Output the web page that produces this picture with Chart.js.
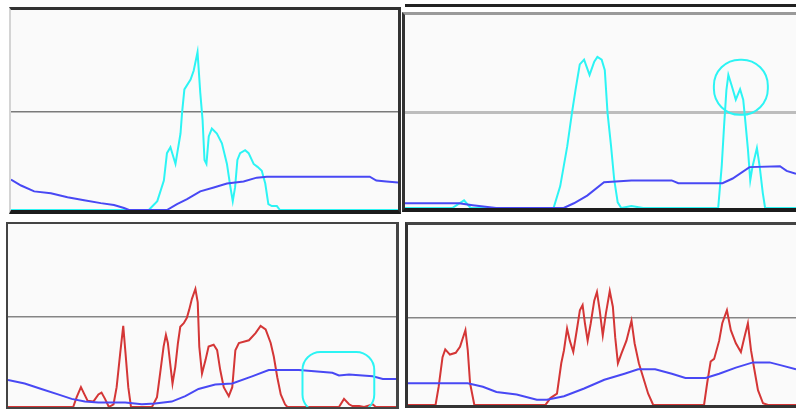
<!DOCTYPE html>
<html>
<head>
<meta charset="utf-8">
<script src="https://cdn.jsdelivr.net/npm/chart.js@4.4.1/dist/chart.umd.min.js"></script>
<style>
  body { margin: 0; width: 796px; height: 414px; background: #fff; position: relative; overflow: hidden; }
  .panel { position: absolute; background: #fafafa; }
  .panel canvas { display: block; }
  #pA { left: 9px; top: 7px; border-top: 3px solid #333; border-right: 3px solid #333; border-bottom: 4px solid #1c1c1c; border-left: 2px solid #d4d4d4; }
  #pB { left: 402px; top: 12px; border-top: 3px solid #9a9a9a; border-left: 3px solid #333; border-bottom: 4px solid #1c1c1c; }
  #lineB { position: absolute; left: 405px; top: 4px; width: 391px; height: 3px; background: #222; }
  #pC { left: 6px; top: 222px; border: 2px solid #444; border-right-width: 3px; }
  #pD { left: 405px; top: 222px; border-left: 3px solid #333; border-top: 3px solid #444; border-bottom: 3px solid #333; }
</style>
</head>
<body>
<div id="lineB"></div>
<div class="panel" id="pA"><canvas id="chartA" width="387" height="200"></canvas></div>
<div class="panel" id="pB"><canvas id="chartB" width="391" height="193"></canvas></div>
<div class="panel" id="pC"><canvas id="chartC" width="388" height="183"></canvas></div>
<div class="panel" id="pD"><canvas id="chartD" width="388" height="180"></canvas></div>
<script>
// top left
const tlCyanX = [0, 35.6, 37.8, 39.5, 40.3, 41.2, 42.5, 43.8, 44.2, 44.8, 46.4, 47.2, 48.2, 48.9, 49.5, 50.0, 50.5, 51.1, 51.9, 53.2, 54.5, 55.8, 56.7, 57.3, 57.9, 58.5, 59.2, 60.5, 61.4, 62.7, 63.7, 64.8, 65.7, 66.5, 67.4, 68.7, 69.5, 100];
const tlCyanY = [0, 0, 0.09, 0.30, 0.58, 0.64, 0.47, 0.78, 0.99, 1.23, 1.33, 1.42, 1.61, 1.20, 0.92, 0.51, 0.47, 0.75, 0.83, 0.78, 0.68, 0.47, 0.23, 0.09, 0.23, 0.51, 0.58, 0.61, 0.58, 0.47, 0.44, 0.40, 0.27, 0.06, 0.04, 0.04, 0, 0];
const tlBlueX = [0, 2.6, 6.0, 10.3, 14.6, 18.9, 23.2, 26.6, 29.2, 30.5, 40.3, 42.9, 45.5, 48.9, 52.4, 55.8, 60.1, 63.5, 66.1, 92.7, 94.4, 97.0, 100];
const tlBlueY = [0.31, 0.25, 0.19, 0.17, 0.13, 0.10, 0.07, 0.05, 0.02, 0, 0, 0.06, 0.11, 0.19, 0.23, 0.27, 0.29, 0.33, 0.34, 0.34, 0.30, 0.29, 0.28];

// top right
const trCyanX = [0, 12.1, 15.1, 16.8, 38.0, 39.7, 41.5, 42.7, 43.6, 44.7, 45.8, 47.2, 48.4, 49.2, 50.3, 51.1, 51.8, 52.7, 53.5, 54.4, 55.3, 57.9, 60.9, 80.1, 81.0, 81.6, 82.2, 82.7, 83.6, 84.6, 85.7, 86.5, 87.0, 87.7, 88.3, 88.9, 90.0, 90.7, 91.5, 92.1, 100];
const trCyanY = [0, 0, 0.08, 0, 0, 0.23, 0.65, 1.00, 1.24, 1.51, 1.56, 1.40, 1.54, 1.59, 1.56, 1.45, 1.00, 0.65, 0.30, 0.06, 0, 0.02, 0, 0, 0.44, 0.86, 1.24, 1.40, 1.28, 1.14, 1.25, 1.14, 0.93, 0.62, 0.29, 0.44, 0.63, 0.44, 0.16, 0, 0];
const trBlueX = [0, 13.8, 17.3, 23.3, 40.6, 43.2, 46.6, 50.9, 57.9, 68.2, 69.9, 81.2, 83.8, 88.1, 95.9, 97.6, 100];
const trBlueY = [0.05, 0.05, 0.03, 0, 0, 0.05, 0.13, 0.27, 0.29, 0.29, 0.26, 0.26, 0.31, 0.43, 0.44, 0.39, 0.36];
const trRing = [79.0, 92.8, 0.98, 1.56];

// bottom left
const blRedX = [0, 16.8, 17.7, 18.8, 19.7, 20.5, 22.0, 23.3, 24.1, 25.0, 26.0, 27.2, 28.0, 28.9, 29.7, 30.3, 31.0, 31.7, 37.1, 38.4, 39.2, 40.1, 40.7, 41.2, 41.8, 42.4, 43.1, 43.8, 44.4, 45.3, 46.1, 46.7, 47.4, 48.3, 48.9, 49.3, 50.0, 50.9, 51.7, 53.0, 53.9, 54.7, 55.6, 56.9, 57.8, 58.6, 59.5, 62.1, 63.8, 65.1, 66.4, 67.7, 68.5, 69.4, 70.3, 71.4, 72.0, 85.3, 86.6, 87.9, 88.8, 90.5, 91.8, 94.0, 94.8, 100];
const blRedY = [0, 0, 0.11, 0.22, 0.14, 0.07, 0.06, 0.14, 0.16, 0.09, 0, 0.03, 0.22, 0.59, 0.90, 0.59, 0.22, 0, 0, 0.11, 0.37, 0.67, 0.80, 0.71, 0.48, 0.26, 0.44, 0.71, 0.89, 0.93, 0.99, 1.08, 1.20, 1.31, 1.16, 0.67, 0.37, 0.52, 0.67, 0.69, 0.63, 0.41, 0.22, 0.12, 0.22, 0.63, 0.71, 0.74, 0.82, 0.90, 0.86, 0.71, 0.56, 0.33, 0.14, 0.03, 0, 0, 0.09, 0.03, 0.01, 0.01, 0, 0.03, 0, 0];
const blBlueX = [0, 4.3, 8.6, 12.9, 16.4, 19.8, 23.3, 30.2, 34.5, 37.9, 42.2, 45.7, 49.1, 53.4, 57.8, 62.9, 67.2, 75.0, 83.6, 85.3, 87.9, 94.0, 96.6, 100];
const blBlueY = [0.30, 0.26, 0.20, 0.14, 0.09, 0.06, 0.05, 0.05, 0.03, 0.04, 0.06, 0.12, 0.20, 0.25, 0.26, 0.34, 0.41, 0.41, 0.38, 0.35, 0.36, 0.34, 0.31, 0.31];
const blRing = [75.9, 94.4, -0.06, 0.61];

// bottom right
const brRedX = [0, 7.1, 7.9, 8.9, 9.6, 10.8, 12.3, 13.4, 14.8, 15.4, 16.0, 17.1, 35.4, 36.7, 38.4, 39.5, 40.2, 41.0, 41.7, 42.6, 43.5, 44.3, 45.0, 45.6, 46.3, 47.1, 48.0, 48.7, 49.4, 50.2, 51.0, 52.0, 52.8, 53.4, 54.1, 55.0, 56.3, 57.6, 58.4, 59.5, 60.6, 61.9, 63.2, 76.3, 77.1, 78.0, 78.9, 80.2, 81.0, 82.2, 83.2, 84.5, 85.8, 86.7, 87.6, 88.4, 89.3, 90.2, 91.5, 92.8, 100];
const brRedY = [0, 0, 0.21, 0.55, 0.64, 0.58, 0.60, 0.67, 0.86, 0.63, 0.25, 0, 0, 0.08, 0.13, 0.48, 0.63, 0.88, 0.74, 0.61, 0.86, 1.09, 1.15, 0.94, 0.74, 0.94, 1.20, 1.30, 1.09, 0.80, 1.05, 1.31, 1.13, 0.78, 0.48, 0.59, 0.74, 0.97, 0.71, 0.48, 0.32, 0.13, 0, 0, 0.25, 0.50, 0.53, 0.74, 0.94, 1.09, 0.86, 0.71, 0.61, 0.78, 0.94, 0.63, 0.40, 0.17, 0.02, 0, 0];
const brBlueX = [0, 8.0, 15.4, 19.3, 22.8, 28.0, 33.2, 35.8, 40.2, 45.4, 50.6, 55.8, 59.3, 63.7, 68.0, 71.5, 76.7, 80.2, 84.5, 88.9, 93.2, 96.7, 100];
const brBlueY = [0.25, 0.25, 0.25, 0.21, 0.15, 0.12, 0.06, 0.06, 0.10, 0.19, 0.29, 0.36, 0.41, 0.41, 0.36, 0.31, 0.31, 0.36, 0.43, 0.49, 0.49, 0.45, 0.41];

const CYAN = '#2cf4f4';
const BLUE = '#4848f4';
const RED = '#d43636';

const zip = (xs, ys) => xs.map((x, i) => ({ x: x, y: ys[i] }));

// hand drawn circles, given in data units
const ringPlugin = {
    id: 'rings',
    afterDatasetsDraw(chart, args, opts) {
        const { ctx, scales: { x, y } } = chart;
        (opts.items || []).forEach(r => {
            const x0 = x.getPixelForValue(r.box[0]);
            const x1 = x.getPixelForValue(r.box[1]);
            const y0 = y.getPixelForValue(r.box[3]);
            const y1 = y.getPixelForValue(r.box[2]);
            ctx.save();
            ctx.strokeStyle = CYAN;
            ctx.lineWidth = 2;
            ctx.beginPath();
            ctx.roundRect(x0, y0, x1 - x0, y1 - y0, r.radius);
            ctx.stroke();
            ctx.restore();
        });
    }
};

function makeChart(id, spike, spikeColor, blue, yMax, gridColor, gridWidth, rings) {
    return new Chart(document.getElementById(id), {
        type: 'line',
        data: {
            datasets: [
                { data: blue, borderColor: BLUE, borderWidth: 2 },
                { data: spike, borderColor: spikeColor, borderWidth: 2 }
            ]
        },
        options: {
            responsive: false,
            animation: false,
            events: [],
            layout: { padding: 0 },
            elements: { point: { radius: 0 }, line: { tension: 0 } },
            plugins: {
                legend: { display: false },
                tooltip: { enabled: false },
                rings: { items: rings }
            },
            scales: {
                x: { type: 'linear', min: 0, max: 100, display: false },
                y: {
                    min: 0,
                    max: yMax,
                    ticks: { display: false, stepSize: 1 },
                    border: { display: false },
                    grid: {
                        drawTicks: false,
                        lineWidth: gridWidth,
                        color: c => c.tick && c.tick.value === 1 ? gridColor : 'transparent'
                    }
                }
            }
        },
        plugins: [ringPlugin]
    });
}

makeChart('chartA', zip(tlCyanX, tlCyanY), CYAN, zip(tlBlueX, tlBlueY), 2.04, '#7a7a7a', 1.5, []);
makeChart('chartB', zip(trCyanX, trCyanY), CYAN, zip(trBlueX, trBlueY), 2.03, '#bdbdbd', 3, [{ box: trRing, radius: 26 }]);
makeChart('chartC', zip(blRedX, blRedY), RED, zip(blBlueX, blBlueY), 2.03, '#858585', 1.5, [{ box: blRing, radius: 18 }]);
makeChart('chartD', zip(brRedX, brRedY), RED, zip(brBlueX, brBlueY), 2.07, '#858585', 1.5, []);
</script>
</body>
</html>
